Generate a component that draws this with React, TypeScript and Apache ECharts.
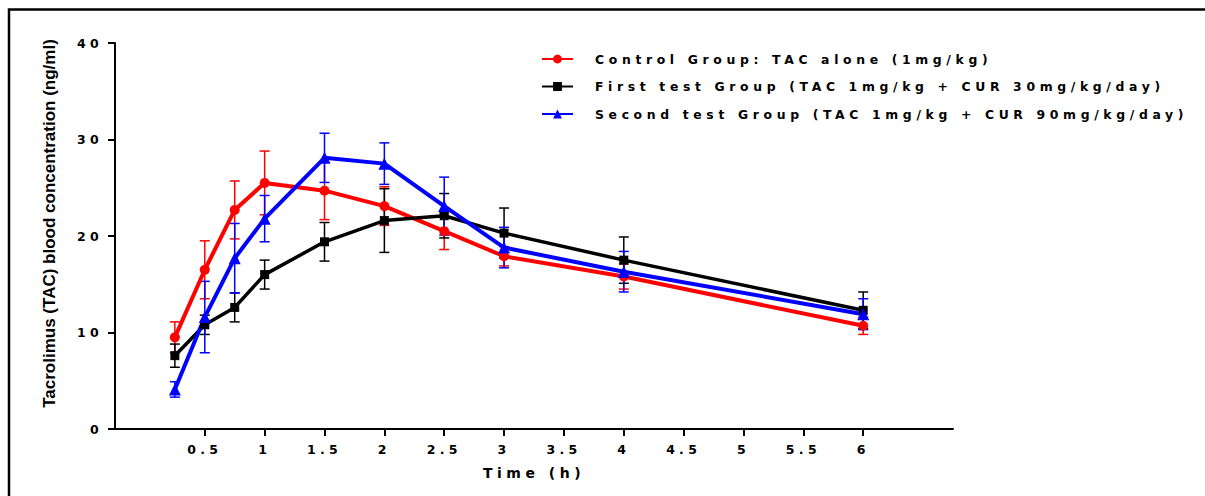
import React, { useEffect, useRef } from "react";
import * as echarts from "echarts";

const times = [0.25, 0.5, 0.75, 1, 1.5, 2, 2.5, 3, 4, 6];
const xTickValues = [0.5, 1, 1.5, 2, 2.5, 3, 3.5, 4, 4.5, 5, 5.5, 6];

const seriesNames = [
  "Control Group: TAC alone (1mg/kg)",
  "First test Group (TAC 1mg/kg + CUR 30mg/kg/day)",
  "Second test Group (TAC 1mg/kg + CUR 90mg/kg/day)",
];

const controlMean = [9.5, 16.5, 22.7, 25.5, 24.7, 23.1, 20.5, 17.9, 15.8, 10.7];
const controlSd = [1.6, 3.0, 3.0, 3.3, 3.0, 2.0, 1.9, 1.0, 1.3, 0.9];
const firstMean = [7.6, 10.8, 12.6, 16.0, 19.4, 21.6, 22.1, 20.3, 17.5, 12.3];
const firstSd = [1.2, 1.0, 1.5, 1.5, 2.0, 3.3, 2.3, 2.6, 2.4, 1.9];
const secondMean = [4.1, 11.6, 17.7, 21.8, 28.1, 27.5, 23.1, 18.8, 16.3, 11.9];
const secondSd = [0.8, 3.7, 3.6, 2.4, 2.55, 2.15, 3.0, 2.1, 2.1, 1.6];

const colors = ["#ff0000", "#000000", "#0000ff"];
const symbols = ["circle", "rect", "triangle"];
const symbolSizes = [10, 9, 12];
const lineWidths = [4, 3.5, 4];

const css = `
#chart-root svg text[style*="12.5px"] { letter-spacing: 4.3px; }
#chart-root svg text[style*="12.4px"] { letter-spacing: 4.65px; }
#chart-root svg text[style*="14px"] { letter-spacing: 4.5px; }
`;

export default function App() {
  const ref = useRef<HTMLDivElement>(null);

  useEffect(() => {
    if (!ref.current) return;
    const chart = echarts.init(ref.current, null, { renderer: "svg" });
    const means = [controlMean, firstMean, secondMean];
    const sds = [controlSd, firstSd, secondSd];

    const errSeries = means.map((m, si) => ({
      type: "custom",
      name: "err" + si,
      z: 2,
      data: times.map((t, i) => [t, m[i], sds[si][i]]),
      encode: { x: 0, y: 1 },
      renderItem: (params: any, api: any) => {
        const x = api.value(0);
        const mean = api.value(1);
        const sd = api.value(2);
        const top = api.coord([x, mean + sd]);
        const bot = api.coord([x, mean - sd]);
        const hw = 5;
        const style = { stroke: colors[si], lineWidth: 1.5 };
        return {
          type: "group",
          children: [
            { type: "line", shape: { x1: top[0], y1: top[1], x2: bot[0], y2: bot[1] }, style },
            { type: "line", shape: { x1: top[0] - hw, y1: top[1], x2: top[0] + hw, y2: top[1] }, style },
            { type: "line", shape: { x1: bot[0] - hw, y1: bot[1], x2: bot[0] + hw, y2: bot[1] }, style },
          ],
        };
      },
    }));

    const lineSeries = means.map((m, si) => ({
      type: "line",
      name: seriesNames[si],
      z: 3,
      data: times.map((t, i) => [t, m[i]]),
      symbol: symbols[si],
      symbolSize: symbolSizes[si],
      showAllSymbol: true,
      itemStyle: { color: colors[si] },
      lineStyle: { color: colors[si], width: lineWidths[si] },
    }));

    chart.setOption({
      animation: false,
      backgroundColor: "#ffffff",
      grid: { left: 115, right: 252, top: 43, bottom: 67, containLabel: false },
      legend: {
        data: seriesNames,
        left: 541,
        top: 52,
        padding: 0,
        orient: "vertical",
        itemWidth: 31,
        itemHeight: 11,
        itemGap: 13.5,
        textStyle: {
          fontFamily: "DejaVu Sans",
          fontWeight: "bold",
          fontSize: 12.4,
          color: "#000",
          lineHeight: 14,
          padding: [0, 0, 0, 17],
        },
      },
      xAxis: {
        type: "value",
        min: -0.25,
        max: 6.75,
        name: "Time (h)",
        nameLocation: "middle",
        nameGap: 37,
        nameTextStyle: { fontFamily: "DejaVu Sans", fontWeight: "bold", fontSize: 14, color: "#000" },
        axisLine: { show: true, onZero: false, lineStyle: { color: "#000", width: 2 } },
        axisTick: { show: true, customValues: xTickValues, length: 7, lineStyle: { color: "#000", width: 2 } },
        axisLabel: {
          customValues: xTickValues,
          fontFamily: "DejaVu Sans",
          fontWeight: "bold",
          fontSize: 12.5,
          color: "#000",
          margin: 14,
        },
        splitLine: { show: false },
      },
      yAxis: {
        type: "value",
        min: 0,
        max: 40,
        interval: 10,
        name: "Tacrolimus (TAC) blood concentration (ng/ml)",
        nameLocation: "middle",
        nameGap: 57,
        nameTextStyle: {
          fontFamily: "Liberation Sans",
          fontWeight: "bold",
          fontSize: 17,
          color: "#000",
          padding: [0, 0, 0, 25],
        },
        axisLine: { show: true, onZero: false, lineStyle: { color: "#000", width: 2 } },
        axisTick: { show: true, length: 7, lineStyle: { color: "#000", width: 2 } },
        axisLabel: {
          fontFamily: "DejaVu Sans",
          fontWeight: "bold",
          fontSize: 12.5,
          color: "#000",
          margin: 12,
        },
        splitLine: { show: false },
      },
      graphic: [
        {
          type: "rect",
          shape: { x: 9, y: 9.5, width: 1210, height: 500 },
          style: { fill: "none", stroke: "#000", lineWidth: 2.5 },
          silent: true,
        },
      ],
      series: [...errSeries, ...lineSeries],
    });
    return () => chart.dispose();
  }, []);

  return (
    <>
      <style>{css}</style>
      <div
        id="chart-root"
        ref={ref}
        style={{ position: "fixed", left: 0, top: 0, width: 1205, height: 496, background: "#fff" }}
      />
    </>
  );
}
